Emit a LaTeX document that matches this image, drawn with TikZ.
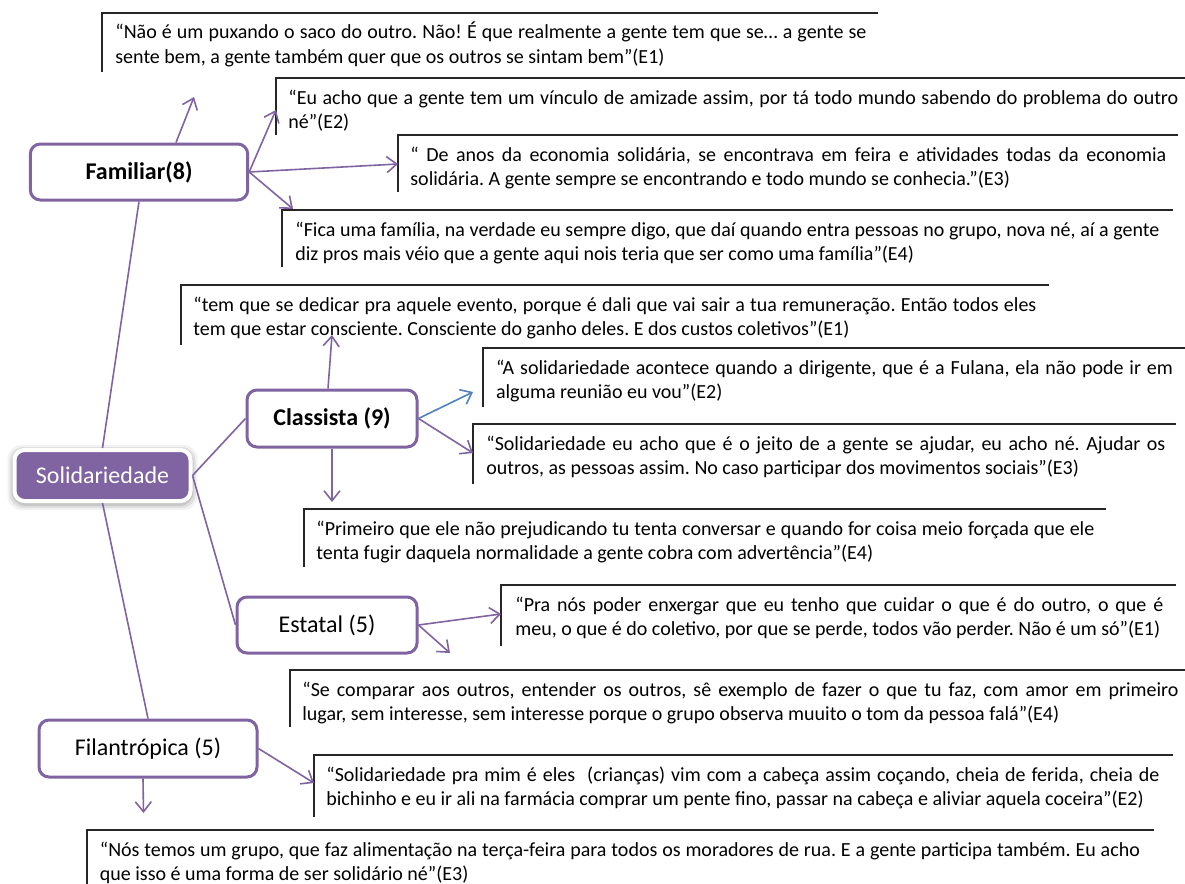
\documentclass[tikz,border=0pt]{standalone}
\usepackage{fontspec}
\setmainfont{Carlito}
\usetikzlibrary{arrows.meta,calc}
\definecolor{mmpurple}{HTML}{8064A2}
\definecolor{mmblue}{HTML}{4F81BD}
\frenchspacing

% quotation box: name, box left, top, right end, bottom, text left, first-line width (pt), line 1, line 2
\newcommand\qbox[9]{%
  \node[quote] (#1) at (#6,{#3+9}) {\strut\makebox[#7pt][s]{#8}\\#9};
  \draw[bracket] (#2,#5) -- (#2,#3) -- (#4,#3);
}

\begin{document}
\begin{tikzpicture}[x=0.5pt,y=-0.5pt,
  quote/.style={anchor=north west, inner sep=0pt, align=left, font=\fontsize{10}{12.2}\selectfont},
  bracket/.style={draw=black!85, line width=1pt},
  catbox/.style={draw=mmpurple, line width=1.5pt, rounded corners=5pt, fill=white, inner sep=2pt, font=\fontsize{12}{14}\selectfont},
  solbox/.style={draw=white, line width=2pt, rounded corners=5pt, fill=mmpurple, text=white, font=\fontsize{12}{14}\selectfont},
  link/.style={draw=mmpurple, line width=0.8pt},
  pointer/.style={link, -{Straight Barb[length=5pt,width=8pt]}},
  bluepointer/.style={pointer, draw=mmblue}]
\useasboundingbox (0,0) rectangle (1185,884);
\fill[white] (0,0) rectangle (1185,884);

% soft halo behind the central node
\foreach \g/\o in {7/0.05,5/0.08,3/0.10}
  \fill[black, opacity=\o, rounded corners=7pt] (14.5-\g,452-\g) rectangle (190.6+\g,503+\g);

% central and category nodes
\node[solbox, minimum width=88pt, minimum height=25.5pt] (sol) at (102.5,475.5) {Solidariedade};
\node[catbox, minimum width=108.7pt, minimum height=28pt, font=\fontsize{12}{14}\selectfont\bfseries] (fam) at (139,172) {Familiar(8)};
\node[catbox, minimum width=85pt, minimum height=28.5pt, font=\fontsize{12}{14}\selectfont\bfseries] (cla) at (332,418.5) {Classista (9)};
\node[catbox, minimum width=90pt, minimum height=28pt] (est) at (327,625) {Estatal (5)};
\node[catbox, minimum width=109pt, minimum height=28.5pt] (fil) at (148,748.5) {Filantrópica (5)};

% branches from the centre
\draw[link] (sol.north) -- (fam.south);
\draw[link] (sol.east) -- (cla.west);
\draw[link] (sol.east) -- (est.west);
\draw[link] (sol.south) -- (fil.north);

% quotations
\qbox{famA}{102}{12.5}{878}{72}{115}{375.5}
  {“Não é um puxando o saco do outro. Não! É que realmente a gente tem que se… a gente se}
  {sente bem, a gente também quer que os outros se sintam bem”(E1)}
\qbox{famB}{275.5}{78}{1185}{135}{288}{445}
  {“Eu acho que a gente tem um vínculo de amizade assim, por tá todo mundo sabendo do problema do outro}
  {né”(E2)}
\qbox{famC}{398}{135}{1178}{192}{410}{378}
  {“ De anos da economia solidária, se encontrava em feira e atividades todas da economia}
  {solidária. A gente sempre se encontrando e todo mundo se conhecia.”(E3)}
\qbox{famD}{282}{210}{1172.5}{267}{295}{432}
  {“Fica uma família, na verdade eu sempre digo, que daí quando entra pessoas no grupo, nova né, aí a gente}
  {diz pros mais véio que a gente aqui nois teria que ser como uma família”(E4)}
\qbox{claA}{181}{285}{1049}{345}{193}{421.5}
  {“tem que se dedicar pra aquele evento, porque é dali que vai sair a tua remuneração. Então todos eles}
  {tem que estar consciente. Consciente do ganho deles. E dos custos coletivos”(E1)}
\qbox{claB}{483}{348}{1185}{407}{495.6}{338.5}
  {“A solidariedade acontece quando a dirigente, que é a Fulana, ela não pode ir em}
  {alguma reunião eu vou”(E2)}
\qbox{claC}{473}{424}{1176}{484}{486}{339.5}
  {“Solidariedade eu acho que é o jeito de a gente se ajudar, eu acho né. Ajudar os}
  {outros, as pessoas assim. No caso participar dos movimentos sociais”(E3)}
\qbox{claD}{304}{509}{1106}{567}{316}{389}
  {“Primeiro que ele não prejudicando tu tenta conversar e quando for coisa meio forçada que ele}
  {tenta fugir daquela normalidade a gente cobra com advertência”(E4)}
\qbox{estA}{501}{585}{1176}{646}{515}{324}
  {“Pra nós poder enxergar que eu tenho que cuidar o que é do outro, o que é}
  {meu, o que é do coletivo, por que se perde, todos vão perder. Não é um só”(E1)}
\qbox{estB}{290}{670}{1185}{727}{302}{438}
  {“Se comparar aos outros, entender os outros, sê exemplo de fazer o que tu faz, com amor em primeiro}
  {lugar, sem interesse, sem interesse porque o grupo observa muuito o tom da pessoa falá”(E4)}
\qbox{filA}{314}{755}{1172.5}{817}{326}{416.5}
  {“Solidariedade pra mim é eles \ (crianças) vim com a cabeça assim coçando, cheia de ferida, cheia de}
  {bichinho e eu ir ali na farmácia comprar um pente fino, passar na cabeça e aliviar aquela coceira”(E2)}
\qbox{filB}{87}{830}{1153.6}{884}{99.5}{520}
  {“Nós temos um grupo, que faz alimentação na terça-feira para todos os moradores de rua. E a gente participa também. Eu acho}
  {que isso é uma forma de ser solidário né”(E3)}

% free ends of the pointers
\coordinate (famAend) at (194,97);
\coordinate (famBend) at (276,110);
\coordinate (famCend) at (398,164);
\coordinate (famDend) at (293,209);
\coordinate (claAend) at (332,335);
\coordinate (claBend) at (473,392);
\coordinate (claCend) at (473,453);
\coordinate (claDend) at (332,502);
\coordinate (estAend) at (501,614);
\coordinate (estBend) at (450,653);
\coordinate (filAend) at (314,783);
\coordinate (filBend) at (143.5,813);

% pointers towards the quotations
\draw[pointer] ($(fam.north)+(37,0)$) -- (famAend);
\draw[pointer] (fam.east) -- (famBend);
\draw[pointer] (fam.east) -- (famCend);
\draw[pointer] (fam.east) -- (famDend);
\draw[pointer] ($(cla.north)+(-4,0)$) -- (claAend);
\draw[bluepointer] (cla.east) -- (claBend);
\draw[pointer] (cla.east) -- (claCend);
\draw[pointer] (cla.south) -- (claDend);
\draw[pointer] (est.east) -- (estAend);
\draw[pointer] (est.east) -- (estBend);
\draw[pointer] (fil.east) -- (filAend);
\draw[pointer] ($(fil.south)+(-5,0)$) -- (filBend);
\end{tikzpicture}
\end{document}
